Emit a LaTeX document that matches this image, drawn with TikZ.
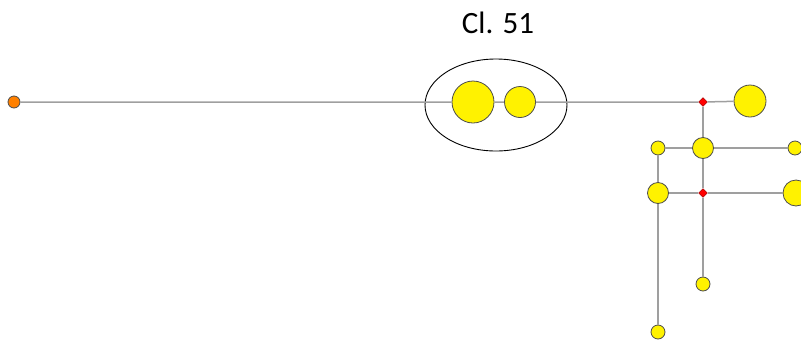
\documentclass[tikz,border=0pt]{standalone}
\usepackage{fontspec}
\setmainfont{Carlito}
\usetikzlibrary{shapes.geometric}

\begin{document}
\begin{tikzpicture}[x=1pt,y=-1pt,
  link/.style={draw=gray!75,line width=1.5pt},
  site/.style={circle,draw=black!70,fill=yellow,inner sep=0pt,line width=0.8pt},
  fork/.style={diamond,draw=red!55!black,fill=red,inner sep=0pt,minimum size=9pt,line width=0.4pt}]
  \useasboundingbox (0,0) rectangle (801,341); % 画像全体の大きさ

  \node[site,fill=orange,minimum size=12pt] (root) at (14,102) {}; % 左端の根
  \node[site,minimum size=42pt] (c1) at (473,102) {}; % クラスタ内の大きな点
  \node[site,minimum size=31pt] (c2) at (520,102) {};
  \node[ellipse,draw,line width=0.9pt,minimum width=142pt,minimum height=92pt] (cl) at (496,105) {};
  \node[font=\fontsize{31}{33}\selectfont,anchor=base] (lab) at (498,33) {Cl. 51}; % クラスタ名

  \node[fork] (j1) at (703,102) {}; % 分岐点（赤）
  \node[site,minimum size=32pt] (b1) at (750,101) {};
  \node[site,minimum size=14pt] (s1) at (658,148) {};
  \node[site,minimum size=21pt] (m1) at (703,148) {};
  \node[site,minimum size=14pt] (s2) at (795,148) {};
  \node[site,minimum size=21pt] (m2) at (658,193) {};
  \node[fork] (j2) at (703,193) {};
  \node[site,minimum size=26pt] (b2) at (796,193) {};
  \node[site,minimum size=14pt] (s3) at (703,284) {};
  \node[site,minimum size=14pt] (s4) at (658,332) {};

  \draw[link] (root) -- (c1) -- (c2) -- (j1) -- (b1); % 主軸
  \draw[link] (j1) -- (m1) -- (j2) -- (s3); % 縦の枝
  \draw[link] (s1) -- (m2) -- (s4);
  \draw[link] (s1) -- (m1) -- (s2); % 横の枝
  \draw[link] (m2) -- (j2) -- (b2);
\end{tikzpicture}
\end{document}
